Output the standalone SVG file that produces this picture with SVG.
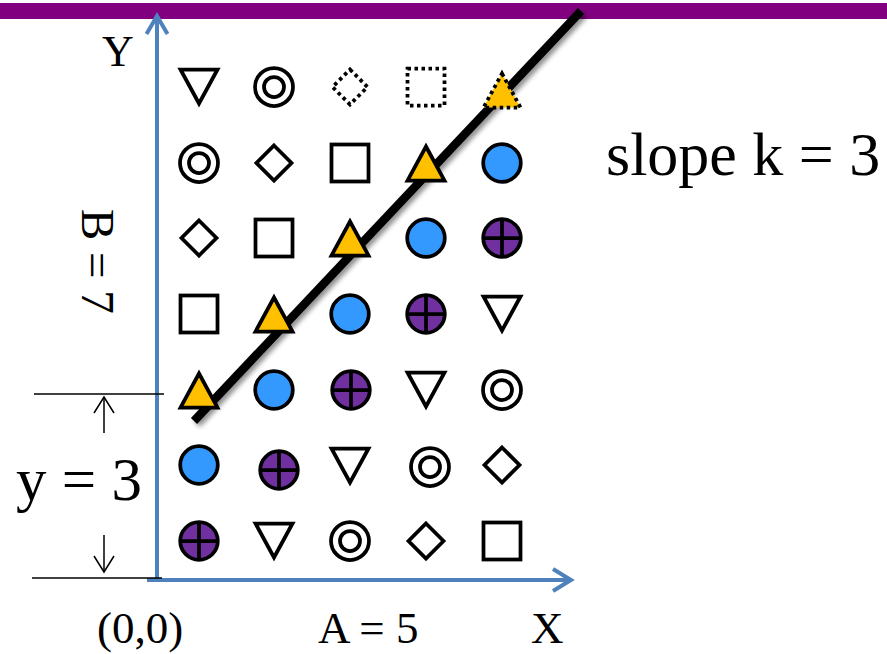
<svg xmlns="http://www.w3.org/2000/svg" xmlns:xlink="http://www.w3.org/1999/xlink" width="887" height="654" viewBox="0 0 887 654">
  <style>
    .lbl { font-family: "Liberation Serif", "Times New Roman", serif; fill: #000; }
    .shp { stroke: #000; stroke-width: 3.75; fill: #fff; }
    .dot { stroke-dasharray: 3.5 3.5; }
    .yel { fill: #FFC000; }
    .blu { fill: #3399FF; }
    .pur { fill: #7030A0; }
    .axis { stroke: #4F81BD; stroke-width: 4; fill: none; }
    .dim { stroke: #000; stroke-width: 1.5; fill: none; }
  </style>
  <defs>
    <filter id="shadow" x="-20%" y="-20%" width="140%" height="140%">
      <feGaussianBlur in="SourceAlpha" stdDeviation="2.5"/>
      <feOffset dx="3" dy="3" result="b"/>
      <feComponentTransfer><feFuncA type="linear" slope="0.45"/></feComponentTransfer>
      <feMerge><feMergeNode/><feMergeNode in="SourceGraphic"/></feMerge>
    </filter>
    <polygon id="triDown" class="shp" points="-18.5,-17.5 18.5,-17.5 0,16.5"/>
    <polygon id="triUp" class="shp yel" points="0,-16.5 18.5,17.5 -18.5,17.5"/>
    <polygon id="triUpDot" class="shp yel dot" points="0,-16.5 18.5,17.5 -18.5,17.5"/>
    <rect id="square" class="shp" x="-18.5" y="-18.5" width="37" height="37"/>
    <rect id="squareDot" class="shp dot" x="-18.5" y="-18.5" width="37" height="37"/>
    <polygon id="diamond" class="shp" points="0,-17.5 17.5,0 0,17.5 -17.5,0"/>
    <polygon id="diamondDot" class="shp dot" points="0,-17.5 17.5,0 0,17.5 -17.5,0"/>
    <g id="dblCircle">
      <circle class="shp" r="19"/>
      <circle class="shp" r="10"/>
    </g>
    <circle id="blue" class="shp blu" r="18.8"/>
    <g id="purple">
      <circle class="shp pur" r="18.8"/>
      <path class="shp" d="M-18.8,0 H18.8 M0,-18.8 V18.8"/>
    </g>
  </defs>

  <rect id="topbar" x="0" y="3" width="887" height="16" fill="#800080"/>

  <!-- nodes: row 1 -->
  <g id="r1c1"><use xlink:href="#triDown" x="199" y="87"/></g>
  <g id="r1c2"><use xlink:href="#dblCircle" x="274" y="87"/></g>
  <g id="r1c3"><use xlink:href="#diamondDot" x="350" y="87"/></g>
  <g id="r1c4"><use xlink:href="#squareDot" x="426" y="87"/></g>
  <!-- row 2 -->
  <g id="r2c1"><use xlink:href="#dblCircle" x="199" y="163"/></g>
  <g id="r2c2"><use xlink:href="#diamond" x="274" y="163"/></g>
  <g id="r2c3"><use xlink:href="#square" x="350" y="163"/></g>
  <g id="r2c5"><use xlink:href="#blue" x="502" y="163"/></g>
  <!-- row 3 -->
  <g id="r3c1"><use xlink:href="#diamond" x="199" y="238"/></g>
  <g id="r3c2"><use xlink:href="#square" x="274" y="238"/></g>
  <g id="r3c4"><use xlink:href="#blue" x="426" y="238"/></g>
  <g id="r3c5"><use xlink:href="#purple" x="502" y="238"/></g>
  <!-- row 4 -->
  <g id="r4c1"><use xlink:href="#square" x="199" y="314"/></g>
  <g id="r4c3"><use xlink:href="#blue" x="350" y="314"/></g>
  <g id="r4c4"><use xlink:href="#purple" x="426" y="314"/></g>
  <g id="r4c5"><use xlink:href="#triDown" x="502" y="314"/></g>
  <!-- row 5 -->
  <g id="r5c2"><use xlink:href="#blue" x="274" y="390"/></g>
  <g id="r5c3"><use xlink:href="#purple" x="351" y="390"/></g>
  <g id="r5c4"><use xlink:href="#triDown" x="426" y="390"/></g>
  <g id="r5c5"><use xlink:href="#dblCircle" x="502" y="390"/></g>
  <!-- row 6 -->
  <g id="r6c1"><use xlink:href="#blue" x="199" y="465"/></g>
  <g id="r6c2"><use xlink:href="#purple" x="279" y="470"/></g>
  <g id="r6c3"><use xlink:href="#triDown" x="350" y="466"/></g>
  <g id="r6c4"><use xlink:href="#dblCircle" x="430" y="467"/></g>
  <g id="r6c5"><use xlink:href="#diamond" x="502" y="465"/></g>
  <!-- row 7 -->
  <g id="r7c1"><use xlink:href="#purple" x="199" y="541"/></g>
  <g id="r7c2"><use xlink:href="#triDown" x="274" y="541"/></g>
  <g id="r7c3"><use xlink:href="#dblCircle" x="350" y="541"/></g>
  <g id="r7c4"><use xlink:href="#diamond" x="426" y="541"/></g>
  <g id="r7c5"><use xlink:href="#square" x="502" y="541"/></g>

  <!-- connectors -->
  <g id="connectors">
    <line class="axis" x1="157" y1="580" x2="157" y2="17"/>
    <polyline class="axis" points="146.5,34 157,16 167.5,34"/>
    <line class="axis" x1="147" y1="580" x2="570" y2="580"/>
    <polyline class="axis" points="553,569 571,580 553,591"/>
    <line x1="194" y1="421" x2="581" y2="11" stroke="#000" stroke-width="8.5" filter="url(#shadow)"/>
    <line class="dim" x1="34" y1="394" x2="164" y2="394"/>
    <line class="dim" x1="32" y1="578" x2="162" y2="578"/>
    <line class="dim" x1="104" y1="433" x2="104" y2="397"/>
    <polyline class="dim" points="94,413 104,397 114,413"/>
    <line class="dim" x1="104" y1="535" x2="104" y2="572"/>
    <polyline class="dim" points="94,556 104,572 114,556"/>
  </g>

  <!-- triangles on the line -->
  <g id="r1c5"><use xlink:href="#triUpDot" x="502" y="90"/></g>
  <g id="r2c4"><use xlink:href="#triUp" x="426" y="163"/></g>
  <g id="r3c3"><use xlink:href="#triUp" x="350" y="238"/></g>
  <g id="r4c2"><use xlink:href="#triUp" x="274" y="314"/></g>
  <g id="r5c1"><use xlink:href="#triUp" x="199" y="390"/></g>

  <!-- labels -->
  <text class="lbl" x="102" y="66" font-size="44">Y</text>
  <text class="lbl" x="606" y="175" font-size="62">slope k = 3</text>
  <text class="lbl" transform="translate(82,209) rotate(90)" font-size="47">B = 7</text>
  <text class="lbl" x="16" y="500" font-size="61">y = 3</text>
  <text class="lbl" x="97" y="643" font-size="45">(0,0)</text>
  <text class="lbl" x="318" y="643" font-size="45">A = 5</text>
  <text class="lbl" x="531" y="643" font-size="45">X</text>
</svg>
